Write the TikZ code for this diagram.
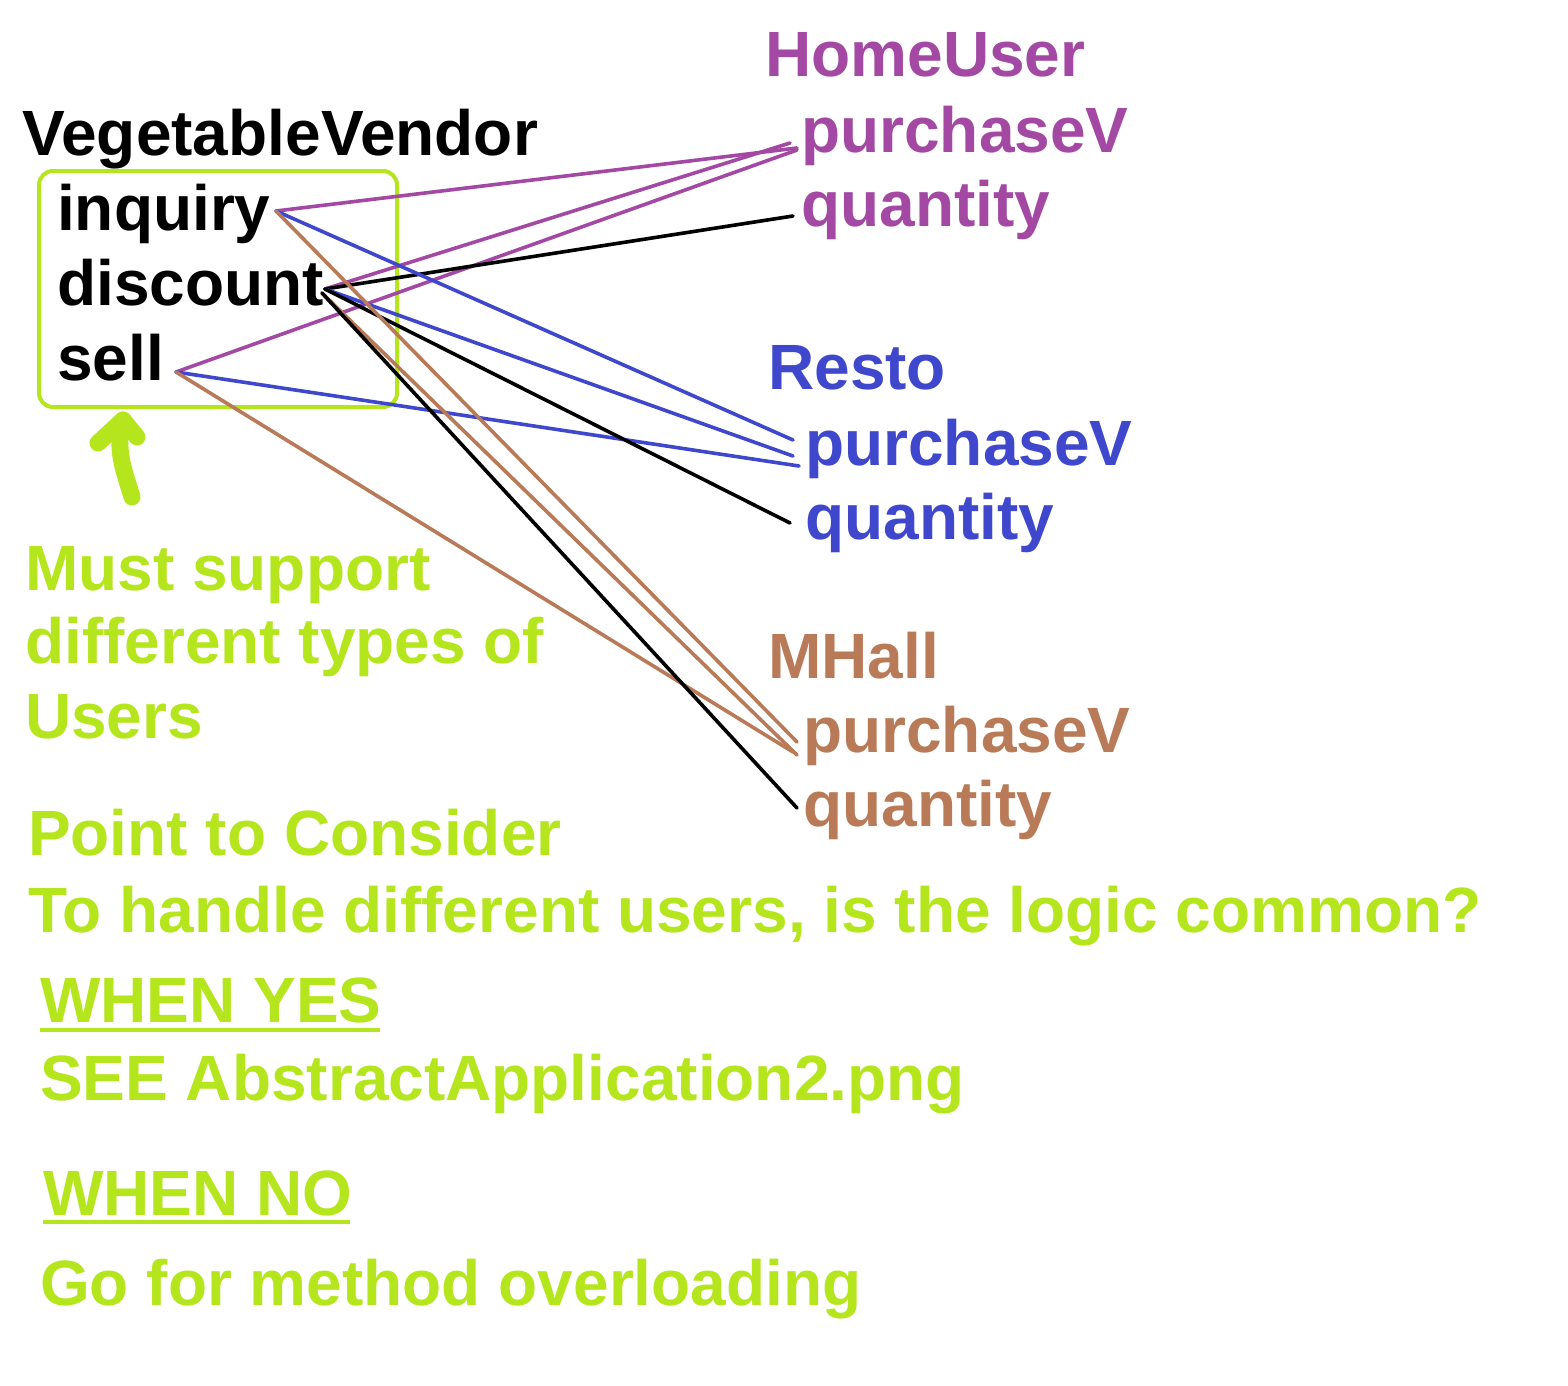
\documentclass[tikz,border=0pt]{standalone}
\usepackage{fontspec}
\setmainfont{Liberation Sans}
\definecolor{hpurple}{HTML}{A349A4}
\definecolor{rblue}{HTML}{3F48CC}
\definecolor{mbrown}{HTML}{B97A57}
\definecolor{lgreen}{HTML}{B5E61D}
\tikzset{
  txt/.style={anchor=base west,inner sep=0pt,font=\fontsize{64}{70}\selectfont\bfseries},
  conn/.style={line width=3.6pt,line cap=round},
}
\begin{document}
\begin{tikzpicture}[x=1pt,y=-1pt]
\useasboundingbox[fill=white] (0,0) rectangle (1568,1386);
% vendor
\node[txt] (vv) at (22,155) {VegetableVendor};
\draw[lgreen,line width=4pt,rounded corners=14pt] (39,171) rectangle (397,407);
\node[txt] (inq) at (57,230) {inquiry};
\node[txt] (disc) at (57,305) {discount};
\node[txt] (sell) at (57,380) {sell};
% users
\node[txt,text=hpurple] (hu) at (765,77) {HomeUser};
\node[txt,text=hpurple] (hup) at (801,152) {purchaseV};
\node[txt,text=hpurple] (huq) at (801,226) {quantity};
\node[txt,text=rblue] (re) at (768,389) {Resto};
\node[txt,text=rblue] (rep) at (805,465) {purchaseV};
\node[txt,text=rblue] (req) at (805,539) {quantity};
\node[txt,text=mbrown] (mh) at (768,678) {MHall};
\node[txt,text=mbrown] (mhp) at (803,752) {purchaseV};
\node[txt,text=mbrown] (mhq) at (803,826) {quantity};
% green notes
\node[txt,text=lgreen] (n1) at (25,590) {Must support};
\node[txt,text=lgreen] (n2) at (25,663) {different types of};
\node[txt,text=lgreen] (n3) at (25,738) {Users};
\node[txt,text=lgreen] (p1) at (28,855) {Point to Consider};
\node[txt,text=lgreen] (p2) at (28,932) {To handle different users, is the logic common?};
\node[txt,text=lgreen] (wy) at (40,1022) {WHEN YES};
\draw[lgreen,line width=4pt] (wy.base west)++(0,8) -- ++(340,0);
\node[txt,text=lgreen] (see) at (40,1100) {SEE AbstractApplication2.png};
\node[txt,text=lgreen] (wn) at (43,1215) {WHEN NO};
\draw[lgreen,line width=4pt] (wn.base west)++(0,7) -- ++(307,0);
\node[txt,text=lgreen] (go) at (40,1305) {Go for method overloading};
% hand arrow
\draw[lgreen,line width=17pt,line cap=round,line join=round]
  (132,497) .. controls (124,470) and (115,450) .. (123,420);
\draw[lgreen,line width=17pt,line cap=round,line join=round]
  (98,443) -- (123,420) -- (137,437);
% connector end points
\coordinate (iE) at (276,211);
\coordinate (dE) at (325,289);
\coordinate (dE2) at (322,293);
\coordinate (sE) at (176,372);
\coordinate (hupA) at (797,148);
\coordinate (hupB) at (790,143);
\coordinate (hupC) at (797,150);
\coordinate (huqA) at (793,216);
\coordinate (repA) at (793,440);
\coordinate (repB) at (793,456);
\coordinate (repC) at (799,466);
\coordinate (reqA) at (790,523);
\coordinate (mhpA) at (797,742);
\coordinate (mhpB) at (797,755);
\coordinate (mhpC) at (793,752);
\coordinate (mhqA) at (797,808);
% connectors
\draw[conn,hpurple] (iE) -- (hupA);
\draw[conn,hpurple] (dE) -- (hupB);
\draw[conn,hpurple] (sE) -- (hupC);
\draw[conn,black] (dE) -- (huqA);
\draw[conn,rblue] (iE) -- (repA);
\draw[conn,rblue] (dE) -- (repB);
\draw[conn,rblue] (sE) -- (repC);
\draw[conn,black] (dE) -- (reqA);
\draw[conn,mbrown] (iE) -- (mhpA);
\draw[conn,mbrown] (dE2) -- (mhpB);
\draw[conn,mbrown] (sE) -- (mhpC);
\draw[conn,black] (dE2) -- (mhqA);
\end{tikzpicture}
\end{document}
